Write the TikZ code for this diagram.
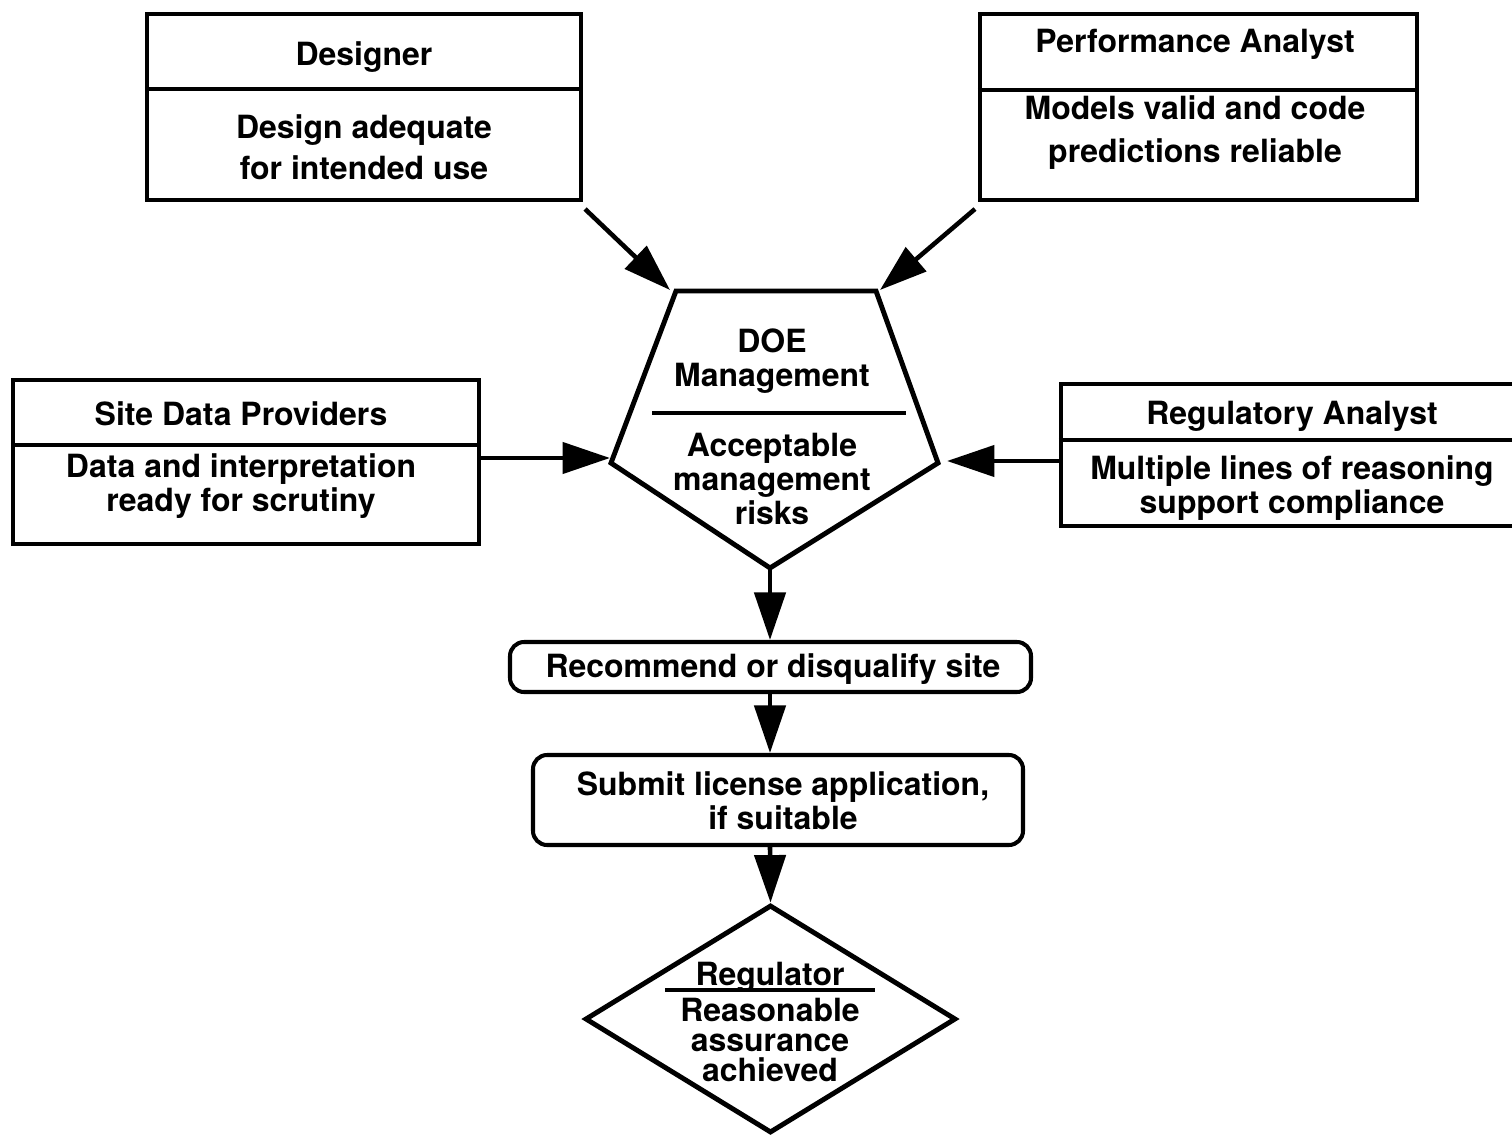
\documentclass[tikz,border=0pt]{standalone}
\usepackage{fontspec}
\setmainfont{TeX Gyre Heros}
\usepackage{tikz}
\usetikzlibrary{arrows.meta, positioning, shapes.geometric, fit, calc}
\tikzstyle{arrow} = [line width=2.6pt, black, -{Triangle[length=0.95cm, width=0.62cm]}]
\tikzstyle{box} = [draw, line width=2.3pt, inner sep=0pt]
\tikzstyle{roundbox} = [box, rounded corners=8pt]
\tikzstyle{divider} = [line width=1.8pt]
\tikzstyle{txt} = [align=center, font=\bfseries\fontsize{18.2}{19.5}\selectfont, inner sep=0pt]

\begin{document}
\begin{tikzpicture}[x=0.02cm, y=-0.02cm]
\useasboundingbox (0,0) rectangle (1512,1135);

\node[box, fit={(147,14) (581,200)}] (designer) {};
\draw[divider] (designer.west |- 0,89) -- (designer.east |- 0,89);
\node[txt] (designerT) at (364,57) {Designer};
\node[txt] (designerB) at (364,147) {Design adequate\\[4pt]for intended use};

\node[box, fit={(980,14) (1417,200)}] (perf) {};
\draw[divider] (perf.west |- 0,90) -- (perf.east |- 0,90);
\node[txt] (perfT) at (1195,44) {Performance Analyst};
\node[txt] (perfB) at (1195,133) {Models valid and code\\[5pt]predictions reliable};

\node[box, fit={(13,380) (479,544)}] (site) {};
\draw[divider] (site.west |- 0,445) -- (site.east |- 0,445);
\node[txt] (siteT) at (241,414) {Site Data Providers};
\node[txt] (siteB) at (241,486) {Data and interpretation\\ready for scrutiny};

\node[box, fit={(1061,384) (1524,526)}] (regulatory) {};
\draw[divider] (regulatory.west |- 0,440) -- (regulatory.east |- 0,440);
\node[txt] (regulatoryT) at (1292,416) {Regulatory Analyst};
\node[txt] (regulatoryB) at (1292,488) {Multiple lines of reasoning\\support compliance};

\coordinate (pTL) at (676,291);
\coordinate (pTR) at (876,291);
\coordinate (pR) at (938,463);
\coordinate (pB) at (770,568);
\coordinate (pL) at (611,463);
\draw[line width=2.8pt, line join=miter] (pTL) -- (pTR) -- (pR) -- (pB) -- (pL) -- cycle;
\draw[divider] (652,413) -- (906,413);
\node[txt] (doeT) at (772,361) {DOE\\Management};
\node[txt] (doeB) at (772,479) {Acceptable\\management\\risks};

\node[roundbox, fit={(510,642) (1031,692)}] (recommend) {};
\node[txt] (recommendT) at (773,669) {Recommend or disqualify site};

\node[roundbox, fit={(533,755) (1023,845)}] (submit) {};
\node[txt] (submitT) at (783,801) {Submit license application,\\if suitable};

\node[diamond, draw, line width=2.8pt, minimum width=7.42cm, minimum height=4.56cm, inner sep=0pt] (regulator) at (770.5,1019) {};
\draw[divider] (665,990) -- (875,990);
\node[txt] (regulatorT) at (770,977) {Regulator};
\node[txt, font=\bfseries\fontsize{18.2}{17.2}\selectfont] (regulatorB) at (770,1040) {Reasonable\\assurance\\achieved};

\draw[arrow] ([shift={(2,7)}]designer.south east) -- ([shift={(-6,-1)}]pTL);
\draw[arrow] ([shift={(-3,7)}]perf.south west) -- ([shift={(4,-1)}]pTR);
\draw[arrow] (site.east |- 0,458) -- ([shift={(-1,-5)}]pL);
\draw[arrow] (regulatory.west |- 0,461) -- ([shift={(9,-2)}]pR);
\draw[arrow] (pB) -- (pB |- recommend.north);
\draw[arrow] (pB |- recommend.south) -- (pB |- submit.north);
\draw[arrow] (pB |- submit.south) -- (regulator.north);
\end{tikzpicture}
\end{document}
